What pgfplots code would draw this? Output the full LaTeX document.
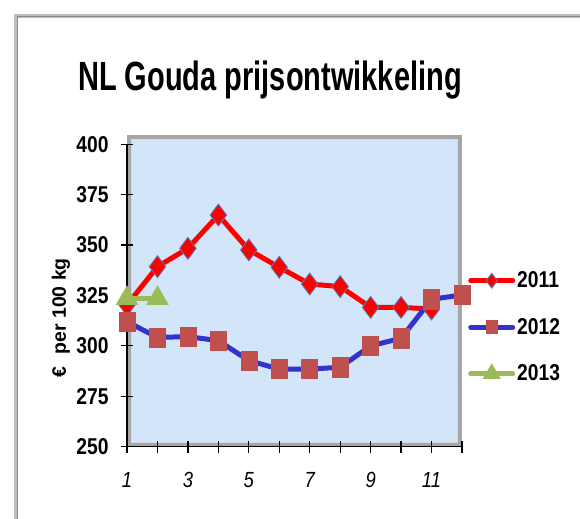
\documentclass[border=0pt]{standalone}
\usepackage{fontspec}
\setmainfont{Liberation Sans}
\newfontfamily\narrowfont[FakeStretch=0.84]{Liberation Sans}
\newfontfamily\titlefont[FakeStretch=0.71]{Liberation Sans}
\usepackage{pgfplots}
\pgfplotsset{compat=1.18}
\definecolor{plotbg}{RGB}{211,229,249}
\definecolor{c2011}{RGB}{255,0,0}
\definecolor{c2011edge}{RGB}{79,129,189}
\definecolor{c2012}{RGB}{51,51,204}
\definecolor{c2012mark}{RGB}{192,80,77}
\definecolor{c2013}{RGB}{155,187,89}
\begin{document}
\begin{tikzpicture}
\path[use as bounding box] (0,0) rectangle (580bp,519bp);
\fill[white] (0,0) rectangle (580bp,519bp);
% chart frame
\draw[black!25, line width=4bp] (16bp,0bp) -- (16bp,503bp) -- (580bp,503bp);
\draw[black!45, line width=1bp] (17bp,0bp) -- (17bp,502bp) -- (580bp,502bp);
% plot area background with bevel
\fill[plotbg] (127bp,72bp) rectangle (462bp,384bp);
\draw[black!35, line width=4bp] (129bp,74bp) rectangle (460bp,382bp);
\draw[black!15, line width=1.5bp] (131.5bp,76.5bp) rectangle (457.5bp,379.5bp);
% title
\node[font=\titlefont\bfseries\fontsize{41}{44}\selectfont] at (270bp,439bp) {NL Gouda prijsontwikkeling};
\begin{axis}[
  at={(127bp,72.3bp)}, anchor=south west,
  scale only axis, width=335bp, height=302.4bp,
  xmin=1, xmax=12, ymin=250, ymax=400,
  clip=false,
  axis x line*=bottom, axis y line*=left,
  axis line style={-, black, line width=1.4bp},
  xtick={1,...,12},
  xticklabels={1,,3,,5,,7,,9,,11,},
  ytick={250,275,300,325,350,375,400},
  yticklabels={250,275,300,325,350,375,400},
  tick align=center,
  major tick length=12bp,
  tick style={black, line width=1.2bp},
  xticklabel style={font=\narrowfont\itshape\fontsize{22}{24}\selectfont, yshift=-16bp},
  yticklabel style={font=\narrowfont\bfseries\fontsize{23}{25}\selectfont, xshift=-9bp},
  ylabel={€\hspace{7bp} per 100 kg},
  every axis y label/.style={at={(rel axis cs:-0.197,0.426)}, rotate=90, anchor=center,
     font=\bfseries\fontsize{19.5}{22}\selectfont},
  legend style={at={(1.018,0.585)}, anchor=north west, draw=none, fill=none,
     font=\narrowfont\bfseries\fontsize{23}{26}\selectfont, row sep=25bp, inner sep=0pt,
     /tikz/every even column/.append style={column sep=4bp}},
  legend cell align=left,
  legend image code/.code={\draw[mark repeat=2, mark phase=2, line cap=round, #1, /tikz/every mark/.append style={scale=0.68}] plot coordinates {(0bp,0bp)(21bp,0bp)(42bp,0bp)};},
]
\addplot[color=c2011, line width=5bp, mark=diamond*, mark size=11bp,
  mark options={fill=c2011, draw=c2011edge, line width=0.8bp}]
  coordinates {(1,320.3)(2,339.3)(3,348.4)(4,364.9)(5,347.6)(6,339)(7,330.7)(8,329.4)(9,319.1)(10,319.1)(11,318.3)};
\addlegendentry{2011}
\addplot[color=c2012, line width=5bp, mark=square*, mark size=8bp,
  mark options={fill=c2012mark, draw=c2012mark, line width=0.5bp, yscale=1.2}]
  coordinates {(1,312)(2,304.2)(3,304.6)(4,302.6)(5,292.7)(6,288.5)(7,288.5)(8,289.4)(9,300)(10,303.8)(11,323.1)(12,325.3)};
\addlegendentry{2012}
\addplot[color=c2013, line width=5bp, mark=triangle*, mark size=8bp,
  mark options={fill=c2013, draw=c2013}]
  coordinates {(1,323.6)(2,323.6)};
\addlegendentry{2013}
\end{axis}
\end{tikzpicture}
\end{document}
